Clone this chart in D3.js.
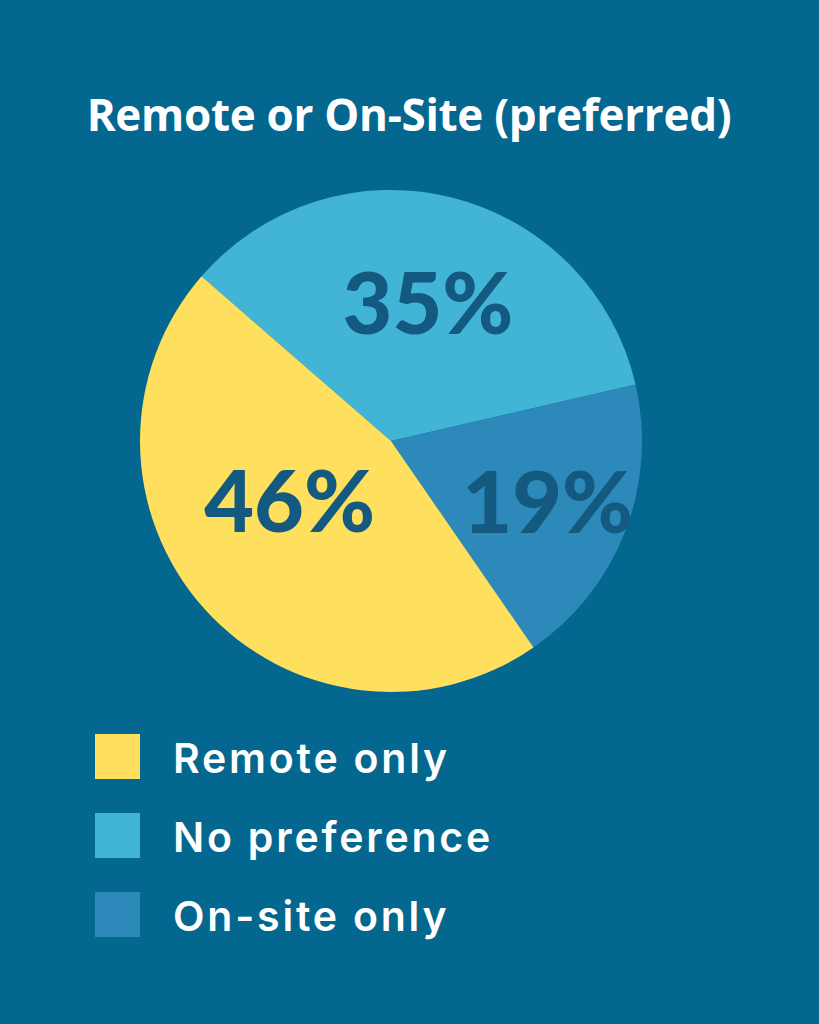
<!DOCTYPE html>
<html>
<head>
<meta charset="utf-8">
<script src="https://cdn.jsdelivr.net/npm/d3@7"></script>
<style>
  html, body { margin: 0; padding: 0; background: #03678f; }
</style>
</head>
<body>
<div id="chart"></div>
<script>
const svgWidth = 819;
const svgHeight = 1024;

// data
const categories = ["No preference", "On-site only", "Remote only"];
const values = [35, 19, 46];
const legendOrder = ["Remote only", "No preference", "On-site only"];
const colors = ["#42b5d6", "#2c89b9", "#ffdf5e"];

const svg = d3.select("#chart")
  .append("svg")
  .attr("width", svgWidth)
  .attr("height", svgHeight)
  .style("display", "block");

svg.append("rect")
  .attr("width", svgWidth)
  .attr("height", svgHeight)
  .attr("fill", "#03678f");

// Titulo
svg.append("text")
  .attr("x", 409)
  .attr("y", 131)
  .attr("text-anchor", "middle")
  .attr("fill", "white")
  .style("font-family", "'Open Sans', sans-serif")
  .style("font-weight", 700)
  .style("font-size", "44px")
  .style("letter-spacing", "-0.3px")
  .text("Remote or On-Site (preferred)");

const color = d3.scaleOrdinal().domain(categories).range(colors);

const cx = 391, cy = 441, radius = 251;
const startDeg = -49;

const pie = d3.pie()
  .sort(null)
  .value(d => d.value)
  .startAngle(startDeg * Math.PI / 180)
  .endAngle((startDeg + 360) * Math.PI / 180);

const arcs = pie(categories.map((c, i) => ({ name: c, value: values[i] })));

const arc = d3.arc().innerRadius(0).outerRadius(radius);

const g = svg.append("g").attr("transform", `translate(${cx},${cy})`);

g.selectAll("path")
  .data(arcs)
  .enter()
  .append("path")
  .attr("d", arc)
  .attr("fill", d => color(d.data.name));

// Etiquetas: radio relativo y giro (grados) respecto al centro del sector
const labelLayout = {
  "No preference": { r: 0.57, turn: 1 },
  "On-site only": { r: 0.67, turn: 0 },
  "Remote only": { r: 0.47, turn: 11 }
};

g.selectAll(".pct")
  .data(arcs)
  .enter()
  .append("text")
  .attr("class", "pct")
  .attr("transform", d => {
    const L = labelLayout[d.data.name];
    const a = (d.startAngle + d.endAngle) / 2 + L.turn * Math.PI / 180;
    const rr = radius * L.r;
    return `translate(${rr * Math.sin(a)},${-rr * Math.cos(a)})`;
  })
  .attr("text-anchor", "middle")
  .attr("dy", "0.36em")
  .attr("fill", "#145a80")
  .style("font-family", "Lato, sans-serif")
  .style("font-weight", 900)
  .style("font-size", "86px")
  .text(d => d.data.value + "%");

// Leyenda
const legend = svg.append("g")
  .attr("transform", "translate(95,734)");

legendOrder.forEach((name, i) => {
  legend.append("rect")
    .attr("x", 0)
    .attr("y", i * 79)
    .attr("width", 45)
    .attr("height", 45)
    .attr("fill", color(name));

  legend.append("text")
    .attr("x", 78)
    .attr("y", i * 79 + 39)
    .attr("fill", "white")
    .style("font-family", "Inter, sans-serif")
    .style("font-weight", 600)
    .style("font-size", "41px")
    .style("letter-spacing", "2.8px")
    .text(name);
});
</script>
</body>
</html>
